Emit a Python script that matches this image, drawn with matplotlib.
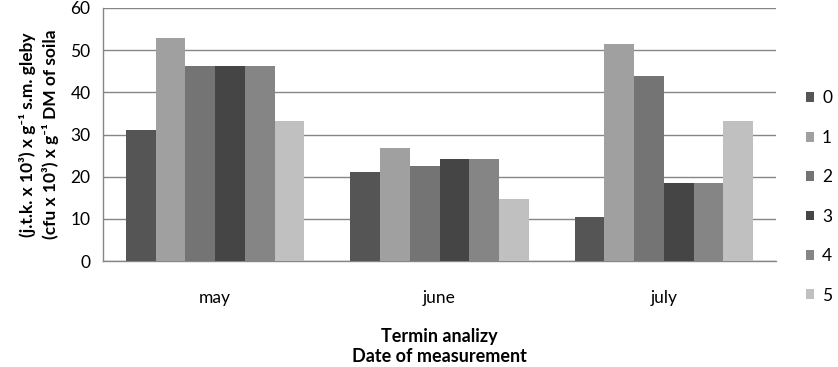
import numpy as np
import matplotlib
matplotlib.use('Agg')
import matplotlib.pyplot as plt
#
# data
#
months = ['may', 'june', 'july']
series = ['0', '1', '2', '3', '4', '5']
s0 = [31.0, 21.1, 10.4]
s1 = [52.8, 26.8, 51.4]
s2 = [46.2, 22.5, 43.8]
s3 = [46.2, 24.2, 18.5]
s4 = [46.2, 24.2, 18.5]
s5 = [33.2, 14.7, 33.2]
values = [s0, s1, s2, s3, s4, s5]
colors = ['#555555', '#a0a0a0', '#747474', '#454545', '#858585', '#c0c0c0']
#
# style
#
plt.rcParams['font.family'] = ['Lato', 'DejaVu Sans']
#
fig = plt.figure(figsize=(8.38, 3.67), dpi=100)
ax = fig.add_axes([103/838, 1-261/367, 673/838, 253/367])
x = np.arange(len(months))
w = 0.795/6
for i, (name, vals) in enumerate(zip(series, values)):
  ax.bar(x + (i-2.5)*w, vals, width=w, color=colors[i], label=name, zorder=3)
#
ax.set_xlim(-0.5, 2.5)
ax.set_ylim(0, 60)
ax.set_yticks(range(0, 61, 10))
ax.set_xticks(x)
ax.set_xticklabels(months, fontsize=12.5)
ax.tick_params(axis='x', length=0, pad=21)
ax.tick_params(axis='y', length=0, pad=9, labelsize=12.5)
ax.grid(axis='y', color='#868686', linewidth=1, zorder=0)
for side in ['top', 'right']:
  ax.spines[side].set_visible(False)
for side in ['left', 'bottom']:
  ax.spines[side].set_color('#868686')
  ax.spines[side].set_linewidth(1)
#
ax.set_ylabel('(j.t.k. x 10³) x g⁻¹ s.m. gleby\n(cfu x 10³) x g⁻¹ DM of soila',
              fontsize=12.5, fontweight='bold', labelpad=8, linespacing=1.45)
ax.set_xlabel('Termin analizy\nDate of measurement', fontsize=13, fontweight='bold',
              labelpad=16, linespacing=1.2)
ax.legend(loc='center left', bbox_to_anchor=(1.035, 0.253), frameon=False, fontsize=12.5,
          borderaxespad=0, handlelength=0.45, handleheight=0.5, handletextpad=0.45,
          labelspacing=1.35)
fig.savefig('out.png', dpi=100)
